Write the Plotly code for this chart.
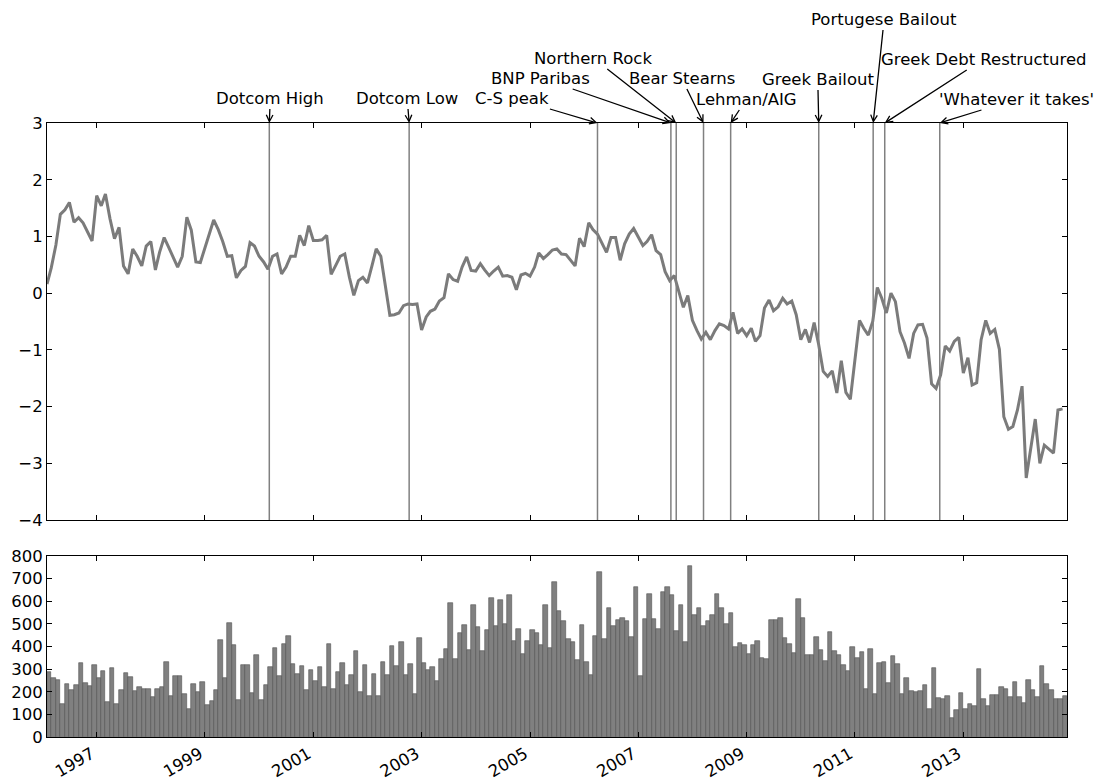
import pandas as pd
import plotly.graph_objects as go

# Monthly observations, Feb 1996 .. Nov 2014
months = pd.date_range("1996-02-01", "2014-11-01", freq="MS")

index_values = [
    # 1996 (Feb-Dec)
    0.16, 0.45, 0.85, 1.39, 1.47, 1.60, 1.25, 1.33, 1.24, 1.08, 0.92,
    # 1997
    1.72, 1.54, 1.75, 1.31, 0.96, 1.16, 0.48, 0.34, 0.78, 0.65, 0.48, 0.83,
    # 1998
    0.91, 0.41, 0.72, 0.98, 0.81, 0.64, 0.46, 0.65, 1.34, 1.11, 0.55, 0.54,
    # 1999
    0.79, 1.05, 1.29, 1.12, 0.91, 0.65, 0.66, 0.27, 0.40, 0.47, 0.89, 0.83,
    # 2000
    0.65, 0.55, 0.42, 0.65, 0.69, 0.34, 0.46, 0.65, 0.65, 1.02, 0.84, 1.19,
    # 2001
    0.93, 0.93, 0.94, 1.02, 0.33, 0.49, 0.65, 0.69, 0.28, -0.04, 0.22, 0.28,
    # 2002
    0.18, 0.49, 0.78, 0.65, 0.16, -0.39, -0.38, -0.35, -0.22, -0.19, -0.20, -0.19,
    # 2003
    -0.65, -0.42, -0.32, -0.28, -0.14, -0.08, 0.34, 0.24, 0.21, 0.46, 0.64, 0.40,
    # 2004
    0.39, 0.52, 0.41, 0.31, 0.39, 0.46, 0.30, 0.31, 0.28, 0.06, 0.32, 0.35,
    # 2005
    0.30, 0.46, 0.71, 0.61, 0.68, 0.76, 0.78, 0.69, 0.68, 0.59, 0.48, 0.97,
    # 2006
    0.82, 1.24, 1.12, 1.04, 0.87, 0.72, 0.98, 0.98, 0.58, 0.87, 1.04, 1.14,
    # 2007
    0.99, 0.84, 0.91, 1.03, 0.75, 0.68, 0.38, 0.22, 0.31, 0.05, -0.25, -0.04,
    # 2008
    -0.48, -0.66, -0.81, -0.69, -0.82, -0.66, -0.54, -0.57, -0.63, -0.34, -0.71, -0.63,
    # 2009
    -0.75, -0.62, -0.85, -0.75, -0.26, -0.12, -0.31, -0.24, -0.09, -0.19, -0.14, -0.38,
    # 2010
    -0.82, -0.64, -0.87, -0.52, -0.90, -1.38, -1.47, -1.37, -1.76, -1.19, -1.75, -1.87,
    # 2011
    -1.18, -0.48, -0.62, -0.74, -0.50, 0.10, -0.09, -0.35, 0.00, -0.15, -0.68, -0.88,
    # 2012
    -1.15, -0.71, -0.56, -0.55, -0.79, -1.60, -1.68, -1.44, -0.93, -1.02, -0.85, -0.78,
    # 2013
    -1.41, -1.14, -1.62, -1.58, -0.82, -0.48, -0.71, -0.64, -0.99, -2.18, -2.40, -2.35,
    # 2014 (Jan-Nov)
    -2.06, -1.64, -3.26, -2.71, -2.22, -3.00, -2.68, -2.75, -2.82, -2.06, -2.04,
]

volume = [
    # 1996 (Feb-Dec)
    287, 259, 251, 148, 235, 207, 228, 325, 240, 225, 320,
    # 1997
    260, 291, 155, 305, 146, 207, 285, 265, 203, 219, 210, 213,
    # 1998
    178, 214, 223, 330, 183, 268, 271, 192, 126, 235, 197, 244,
    # 1999
    143, 158, 206, 429, 262, 503, 405, 163, 318, 318, 194, 364,
    # 2000
    163, 232, 311, 395, 271, 411, 448, 321, 277, 312, 209, 297,
    # 2001
    249, 308, 220, 410, 214, 288, 325, 231, 272, 380, 201, 320,
    # 2002
    182, 278, 180, 331, 274, 401, 314, 422, 274, 321, 192, 438,
    # 2003
    328, 296, 309, 246, 346, 388, 593, 343, 459, 496, 385, 584,
    # 2004
    485, 379, 472, 615, 491, 604, 499, 627, 423, 479, 365, 423,
    # 2005
    473, 459, 408, 583, 395, 683, 559, 513, 435, 420, 339, 494,
    # 2006
    331, 275, 447, 728, 432, 568, 491, 516, 524, 512, 442, 661,
    # 2007
    271, 521, 632, 522, 476, 642, 661, 627, 469, 584, 422, 754,
    # 2008
    538, 571, 490, 512, 541, 630, 568, 499, 547, 398, 416, 408,
    # 2009
    365, 408, 425, 348, 345, 516, 516, 524, 439, 413, 370, 609,
    # 2010
    524, 362, 362, 442, 385, 334, 464, 380, 362, 317, 290, 396,
    # 2011
    349, 374, 213, 388, 192, 328, 333, 240, 357, 321, 189, 259,
    # 2012
    203, 197, 204, 229, 123, 306, 172, 169, 182, 86, 120, 195,
    # 2013
    126, 146, 135, 302, 166, 136, 185, 185, 223, 214, 179, 243,
    # 2014 (Jan-Nov)
    175, 151, 251, 207, 175, 314, 235, 207, 166, 166, 183,
]

event_names = [
    "Dotcom High", "Dotcom Low", "C-S peak", "BNP Paribas", "Northern Rock",
    "Bear Stearns", "Lehman/AIG", "Greek Bailout", "Portugese Bailout",
    "Greek Debt Restructured", "'Whatever it takes'",
]
event_dates = [
    "2000-03-10", "2002-10-09", "2006-04-01", "2007-08-09", "2007-09-14",
    "2008-03-16", "2008-09-15", "2010-05-02", "2011-05-04",
    "2011-07-21", "2012-07-26",
]

# label placement relative to the arrow tip (pixels)
label_offsets = [
    (1, -25), (-2, -25), (-85, -25), (-130, -45), (-83, -65),
    (-22, -45), (16, -24), (-1, -44), (11, -104),
    (99, -64), (77, -24),
]

FONT = "DejaVu Sans"
FS = 16.5

# each bar spans its own calendar month
next_months = months + pd.offsets.MonthBegin(1)
bar_widths = [(b - a).total_seconds() * 1000 for a, b in zip(months, next_months)]
x_end = months[-1] + pd.offsets.MonthBegin(1)

fig = go.Figure()
fig.add_trace(go.Scatter(
    x=months, y=index_values, mode="lines",
    line=dict(color="#7b7b7b", width=3),
    xaxis="x", yaxis="y", showlegend=False,
))
fig.add_trace(go.Bar(
    x=months, y=volume, offset=0, width=bar_widths,
    marker=dict(color="#808080", line=dict(color="#505050", width=0.6)),
    xaxis="x2", yaxis="y2", showlegend=False,
))

axis_common = dict(
    showline=True, linecolor="black", linewidth=1, mirror="allticks",
    ticks="inside", ticklen=5, tickcolor="black", tickwidth=1,
    showgrid=False, zeroline=False, automargin=False,
    tickfont=dict(family=FONT, size=FS, color="black"),
)

shapes = [
    dict(type="line", xref="x", yref="y domain", x0=d, x1=d, y0=0, y1=1,
         line=dict(color="#808080", width=1.5))
    for d in event_dates
]

annotations = [
    dict(x=d, y=1, xref="x", yref="paper", text=name,
         showarrow=True, arrowhead=5, arrowsize=1.0, arrowwidth=1.3,
         arrowcolor="black", ax=dx, ay=dy,
         font=dict(family=FONT, size=FS, color="black"))
    for name, d, (dx, dy) in zip(event_names, event_dates, label_offsets)
]

fig.update_layout(
    width=1101, height=780,
    margin=dict(l=47, r=34, t=123, b=43),
    paper_bgcolor="white", plot_bgcolor="white",
    font=dict(family=FONT, size=FS, color="black"),
    bargap=0,
    xaxis=dict(axis_common, domain=[0, 1], anchor="y", type="date",
               range=[months[0], x_end], tick0="1997-01-01", dtick="M24",
               showticklabels=False),
    xaxis2=dict(axis_common, domain=[0, 1], anchor="y2", type="date",
                matches="x", range=[months[0], x_end], tick0="1997-01-01",
                dtick="M24", tickformat="%Y", tickangle=-30,
                ticklabelshift=-5),
    yaxis=dict(axis_common, domain=[0.3534, 1], anchor="x",
               range=[-4, 3], dtick=1),
    yaxis2=dict(axis_common, domain=[0, 0.2948], anchor="x2",
                range=[0, 800], dtick=100),
    shapes=shapes,
    annotations=annotations,
)

fig.write_html("out.html")
